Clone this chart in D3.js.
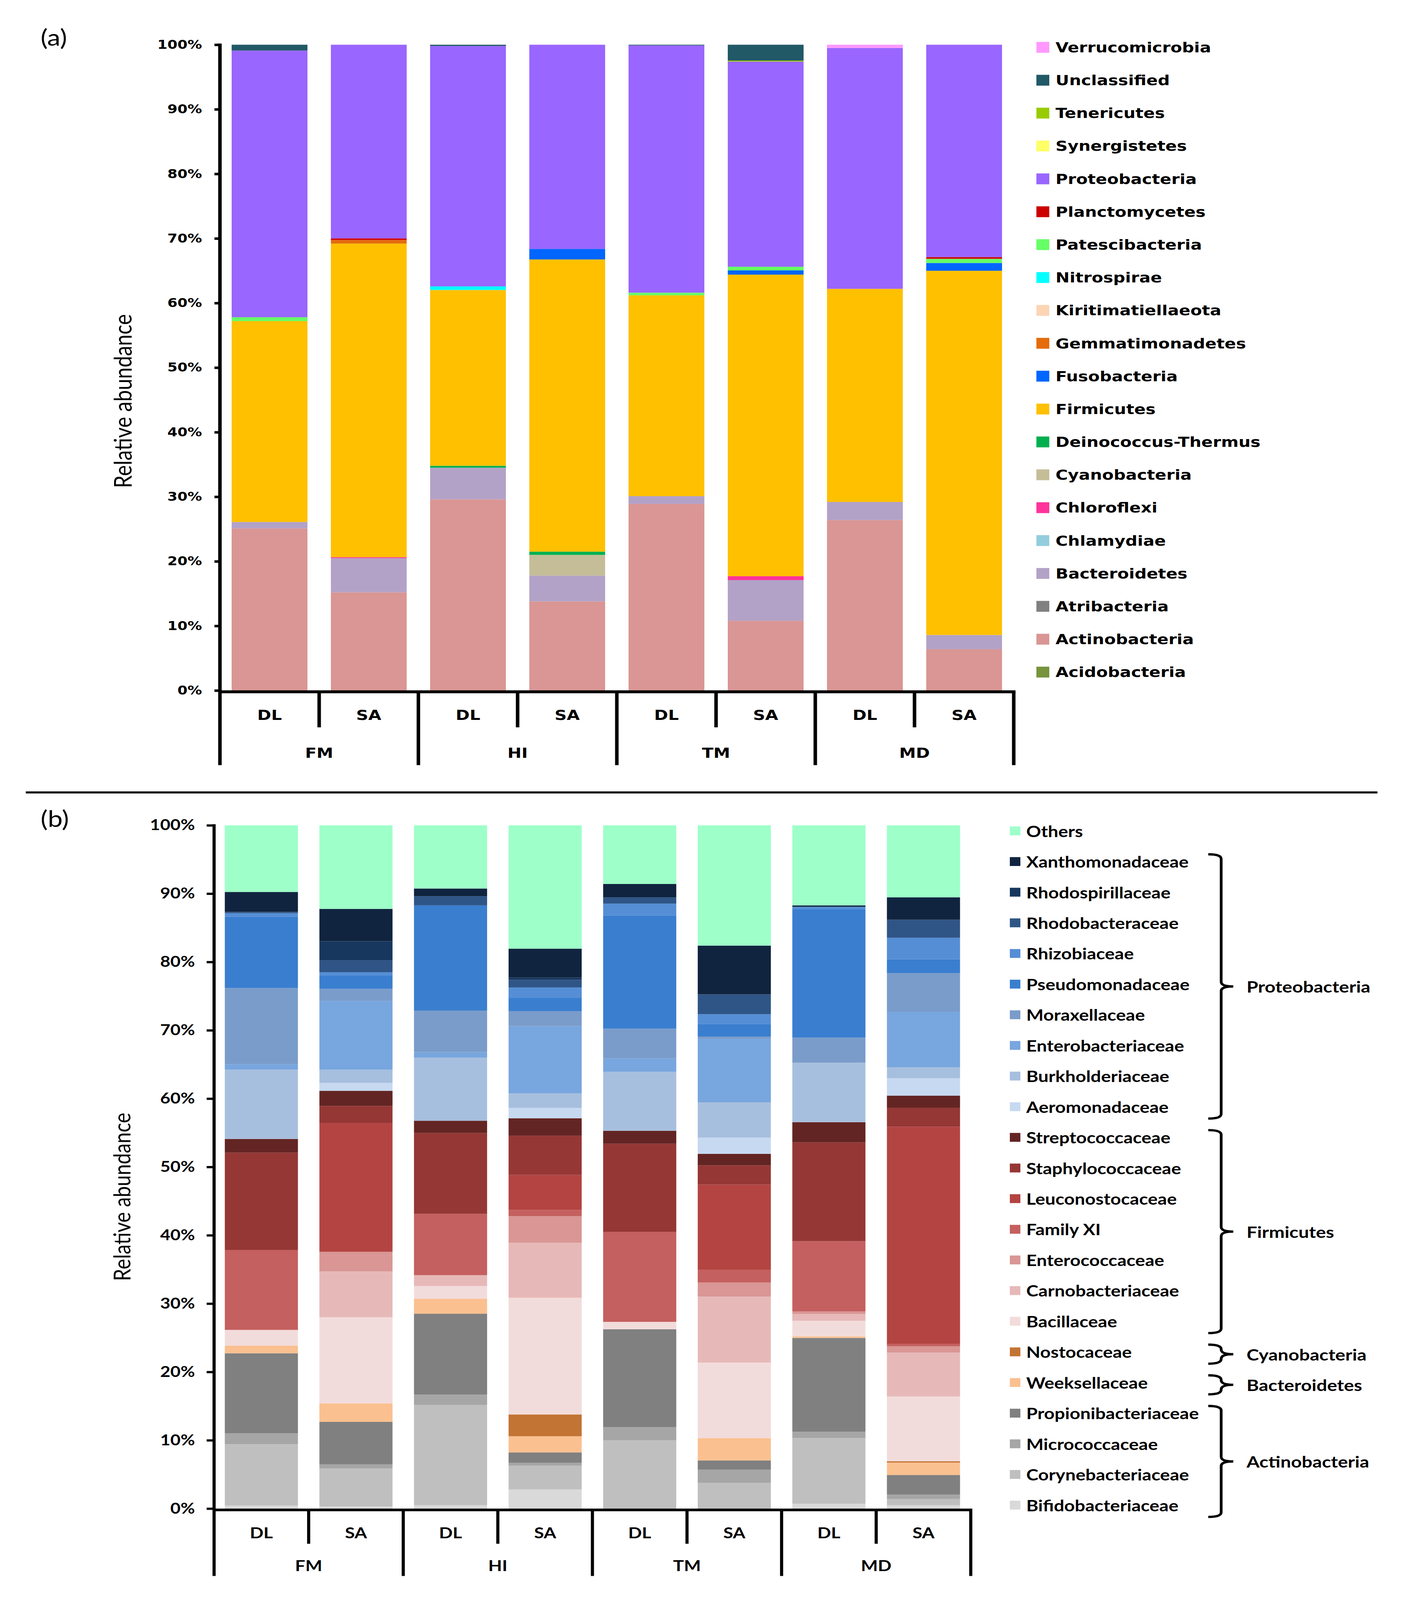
<!DOCTYPE html>
<html><head><meta charset="utf-8">
<script src="https://cdn.jsdelivr.net/npm/d3@7"></script>
<style>html,body{margin:0;padding:0;background:#fff;overflow:hidden;width:100%;height:100%;} svg{display:block;}</style>
</head><body>
<svg id="chart" xmlns="http://www.w3.org/2000/svg"></svg>
<script>
// ---------- shared categories ----------
const sites = ["FM", "HI", "TM", "MD"];
const treatments = ["DL", "SA"];
const sampleKeys = ["FM-DL", "FM-SA", "HI-DL", "HI-SA", "TM-DL", "TM-SA", "MD-DL", "MD-SA"];
const yTicks = [0, 10, 20, 30, 40, 50, 60, 70, 80, 90, 100];

// ---------- panel (a): phyla, stack order bottom -> top ----------
const phyla = ["Acidobacteria", "Actinobacteria", "Atribacteria", "Bacteroidetes", "Chlamydiae",
  "Chloroflexi", "Cyanobacteria", "Deinococcus-Thermus", "Firmicutes", "Fusobacteria",
  "Gemmatimonadetes", "Kiritimatiellaeota", "Nitrospirae", "Patescibacteria", "Planctomycetes",
  "Proteobacteria", "Synergistetes", "Tenericutes", "Unclassified", "Verrucomicrobia"];
const phylaFM_DL = [0, 25.1, 0, 1.0, 0, 0, 0, 0, 31.1, 0, 0, 0, 0, 0.6, 0, 41.3, 0, 0, 0.9, 0];
const phylaFM_SA = [0, 15.2, 0, 5.3, 0, 0.15, 0, 0, 48.55, 0, 0.56, 0, 0, 0, 0.25, 29.99, 0, 0, 0, 0];
const phylaHI_DL = [0, 29.6, 0, 4.9, 0, 0, 0, 0.3, 27.22, 0, 0, 0, 0.56, 0, 0, 37.22, 0, 0, 0.2, 0];
const phylaHI_SA = [0, 13.8, 0, 4.0, 0, 0, 3.2, 0.5, 45.25, 1.63, 0, 0, 0, 0, 0, 31.62, 0, 0, 0, 0];
const phylaTM_DL = [0, 28.9, 0, 1.2, 0, 0, 0, 0, 31.1, 0, 0, 0, 0, 0.4, 0, 38.3, 0, 0, 0.1, 0];
const phylaTM_SA = [0, 10.8, 0, 6.3, 0, 0.6, 0, 0, 46.7, 0.66, 0, 0, 0, 0.56, 0, 31.78, 0, 0.15, 2.45, 0];
const phylaMD_DL = [0, 26.4, 0, 2.8, 0, 0, 0, 0, 33.0, 0, 0, 0, 0, 0, 0, 37.3, 0, 0, 0, 0.5];
const phylaMD_SA = [0, 6.4, 0, 2.2, 0, 0, 0, 0, 56.4, 1.2, 0, 0, 0, 0.65, 0.26, 32.89, 0, 0, 0, 0];
const phylaColors = ["#77933C", "#D99694", "#808080", "#B3A2C7", "#93CDDD",
  "#FF3399", "#C4BD97", "#00B050", "#FFC000", "#0066FF",
  "#E46C0A", "#FCD5B5", "#00FFFF", "#66FF66", "#CC0000",
  "#9966FF", "#FFFF66", "#99CC00", "#215967", "#FF99FF"];

// ---------- panel (b): families, stack order bottom -> top ----------
const families = ["Bifidobacteriaceae", "Corynebacteriaceae", "Micrococcaceae", "Propionibacteriaceae",
  "Weeksellaceae", "Nostocaceae", "Bacillaceae", "Carnobacteriaceae", "Enterococcaceae", "Family XI",
  "Leuconostocaceae", "Staphylococcaceae", "Streptococcaceae", "Aeromonadaceae", "Burkholderiaceae",
  "Enterobacteriaceae", "Moraxellaceae", "Pseudomonadaceae", "Rhizobiaceae", "Rhodobacteraceae",
  "Rhodospirillaceae", "Xanthomonadaceae", "Others"];
const famFM_DL = [0.45, 8.96, 1.62, 11.70, 1.12, 0, 2.30, 0, 0, 11.70, 0, 14.25, 2.00, 0, 10.14, 0.78, 11.16, 10.45, 0.51, 0.20, 0, 2.91, 9.75];
const famFM_SA = [0.3, 5.56, 0.61, 6.22, 2.71, 0, 12.61, 6.70, 2.87, 0, 18.84, 2.50, 2.23, 1.15, 1.93, 10.08, 1.76, 1.96, 0.47, 1.76, 2.78, 4.73, 12.23];
const famHI_DL = [0.51, 14.65, 1.52, 11.84, 2.20, 0, 1.85, 1.59, 0, 8.97, 0, 11.84, 1.79, 0, 9.23, 0.81, 6.09, 15.39, 0, 1.35, 0, 1.12, 9.25];
const famHI_SA = [2.81, 3.45, 0.44, 1.52, 2.37, 3.18, 17.08, 8.05, 3.92, 0.88, 5.14, 5.75, 2.54, 1.52, 2.13, 9.84, 2.17, 1.93, 1.55, 1.12, 0.34, 4.22, 18.05];
const famTM_DL = [0, 9.98, 1.93, 14.34, 0, 0, 1.08, 0, 0, 13.16, 0, 12.92, 1.89, 0, 8.63, 1.96, 4.36, 16.57, 1.73, 0.91, 0, 1.96, 8.58];
const famTM_SA = [0, 3.76, 1.93, 1.35, 3.28, 0, 11.06, 9.64, 2.06, 1.86, 12.48, 2.81, 1.69, 2.37, 5.17, 9.31, 0.30, 1.86, 1.42, 2.91, 0, 7.13, 17.61];
const famMD_DL = [0.71, 9.61, 0.92, 13.73, 0.23, 0, 2.30, 0.98, 0.38, 10.28, 0, 14.47, 2.94, 0, 8.70, 0, 3.68, 18.77, 0.37, 0, 0, 0.21, 11.72];
const famMD_SA = [0.5, 0.89, 0.65, 2.87, 1.83, 0.20, 9.47, 6.42, 0.92, 0.37, 31.76, 2.77, 1.79, 2.54, 1.59, 8.15, 5.65, 2.03, 3.14, 2.64, 0, 3.28, 10.54];
const famColors = ["#D9D9D9", "#BFBFBF", "#A6A6A6", "#808080",
  "#FAC090", "#C27434", "#F2DCDB", "#E6B9B8", "#D99694", "#C4605F",
  "#B34442", "#953735", "#632523", "#C6D9F1", "#A7BFDE",
  "#78A6DE", "#7A9CCA", "#3A7ECF", "#558ED5", "#2F5586",
  "#17375E", "#10243F", "#9EFFC9"];

// phylum groups for the family legend (legend row index ranges, legend order top->bottom)
const famGroupLabels = ["Proteobacteria", "Firmicutes", "Cyanobacteria", "Bacteroidetes", "Actinobacteria"];
const famGroupFirstRow = [1, 10, 17, 18, 19];
const famGroupLastRow = [9, 16, 17, 18, 22];

// ---------- drawing ----------
const W = 3594, H = 4866;
const svg = d3.select("#chart")
  .attr("viewBox", `0 0 ${W} ${H}`)
  .attr("preserveAspectRatio", "none")
  .attr("width", window.innerWidth || W)
  .attr("height", window.innerHeight || H);
svg.append("rect").attr("width", W).attr("height", H).attr("fill", "#fff");

function drawPanel(o) {
  const g = svg.append("g");
  const x = d3.scaleBand().domain(sampleKeys).range([o.x0, o.x1])
    .paddingInner(o.pad).paddingOuter(o.pad / 2);
  const y = d3.scaleLinear().domain([0, 100]).range([o.yBottom, o.yTop]);
  const table = sampleKeys.map((k, i) => {
    const row = { key: k };
    o.names.forEach((n, j) => { row[n] = o.values[i][j]; });
    return row;
  });
  const series = d3.stack().keys(o.names)(table);

  g.append("g").selectAll("g").data(series).join("g")
    .attr("fill", (d, i) => o.colors[i])
    .selectAll("rect").data(d => d.filter(s => s[1] - s[0] > 0)).join("rect")
    .attr("x", d => x(d.data.key))
    .attr("width", x.bandwidth())
    .attr("y", d => y(d[1]))
    .attr("height", d => y(d[0]) - y(d[1]));

  // y axis ticks + labels
  const axis = d3.axisLeft(y).tickValues(yTicks).tickFormat(d => d + "%")
    .tickSize(o.tickLen).tickPadding(o.tickPad);
  const axG = g.append("g").attr("transform", `translate(${o.x0},0)`).call(axis);
  axG.select(".domain").remove();
  axG.selectAll(".tick line").attr("stroke", "#000").attr("stroke-width", o.sw * 0.85);
  axG.selectAll(".tick text").attr("fill", "#000").attr("font-family", o.font)
    .attr("font-size", o.tickFont).attr("font-weight", "bold");

  const step = x.step();
  const line = (x1, y1, x2, y2) => g.append("line")
    .attr("x1", x1).attr("y1", y1).attr("x2", x2).attr("y2", y2)
    .attr("stroke", "#000").attr("stroke-width", o.sw);

  // vertical y axis line down to bottom of group row
  line(o.x0, o.yTop - o.sw * 0.4, o.x0, o.yGroupEnd);
  // x axis baseline
  line(o.x0, o.yAxis, o.x1 + o.sw / 2, o.yAxis);
  // separators
  for (let i = 1; i <= sampleKeys.length; i++) {
    const xb = o.x0 + i * step;
    if (i % 2 === 0) line(xb, o.yAxis, xb, o.yGroupEnd);
    else line(xb, o.yAxis, xb, o.yTickEnd);
  }
  // sample labels
  g.append("g").selectAll("text").data(sampleKeys).join("text")
    .attr("x", d => x(d) + x.bandwidth() / 2).attr("y", o.ySample)
    .attr("text-anchor", "middle").attr("dominant-baseline", "central")
    .attr("font-family", o.font).attr("font-weight", "bold").attr("font-size", o.labelFont)
    .text((d, i) => treatments[i % 2]);
  // site labels
  g.append("g").selectAll("text").data(sites).join("text")
    .attr("x", (d, i) => o.x0 + (2 * i + 1) * step).attr("y", o.ySite)
    .attr("text-anchor", "middle").attr("dominant-baseline", "central")
    .attr("font-family", o.font).attr("font-weight", "bold").attr("font-size", o.labelFont)
    .text(d => d);
  // y title
  g.append("text").attr("transform", `translate(${o.titleX},${o.titleY}) rotate(-90)`)
    .attr("text-anchor", "middle").attr("dominant-baseline", "central")
    .attr("font-family", "Lato").attr("font-size", o.titleFont).attr("fill", "#000")
    .text("Relative abundance");
  // panel letter
  g.append("text").attr("x", o.letterX).attr("y", o.letterY)
    .attr("dominant-baseline", "central").attr("font-family", "Lato")
    .attr("font-size", 68).attr("fill", "#000").text(o.letter);

  // legend (reverse of stack order)
  const legNames = o.names.slice().reverse();
  const legColors = o.colors.slice().reverse();
  const lg = g.append("g").selectAll("g").data(legNames).join("g")
    .attr("transform", (d, i) => `translate(${o.legX},${o.legY0 + i * o.legStep})`);
  lg.append("rect").attr("x", 0).attr("y", -o.legBox / 2).attr("width", o.legBox).attr("height", o.legBox)
    .attr("fill", (d, i) => legColors[i]);
  lg.append("text").attr("x", o.legTextDx).attr("y", 0).attr("dominant-baseline", "central")
    .attr("font-family", o.legFont).attr("font-weight", "bold").attr("font-size", o.legFontSize)
    .attr("fill", "#000").text(d => d);
  return g;
}

drawPanel({
  names: phyla, colors: phylaColors,
  values: [phylaFM_DL, phylaFM_SA, phylaHI_DL, phylaHI_SA, phylaTM_DL, phylaTM_SA, phylaMD_DL, phylaMD_SA],
  x0: 563, x1: 2595, pad: 0.236, yTop: 136, yBottom: 2100,
  yAxis: 2104, yTickEnd: 2212, yGroupEnd: 2327, ySample: 2174, ySite: 2289,
  sw: 9, tickLen: 14, tickPad: 32, font: "DejaVu Sans", tickFont: 37, labelFont: 43,
  titleX: 313, titleY: 1220, titleFont: 62, letter: "(a)", letterX: 104, letterY: 112,
  legX: 2653, legY0: 144, legStep: 100, legBox: 33, legTextDx: 49,
  legFont: "DejaVu Sans", legFontSize: 43
});

const gb = drawPanel({
  names: families, colors: famColors,
  values: [famFM_DL, famFM_SA, famHI_DL, famHI_SA, famTM_DL, famTM_SA, famMD_DL, famMD_SA],
  x0: 548, x1: 2485, pad: 0.227, yTop: 2510, yBottom: 4588,
  yAxis: 4592, yTickEnd: 4695, yGroupEnd: 4793, ySample: 4661, ySite: 4760,
  sw: 8, tickLen: 19, tickPad: 30, font: "Lato", tickFont: 45, labelFont: 46,
  titleX: 311, titleY: 3640, titleFont: 60, letter: "(b)", letterX: 104, letterY: 2489,
  legX: 2585, legY0: 2527, legStep: 93.2, legBox: 27, legTextDx: 42,
  legFont: "Lato", legFontSize: 47
});

// separator between panels
svg.append("line").attr("x1", 66).attr("x2", 3526).attr("y1", 2410).attr("y2", 2410)
  .attr("stroke", "#000").attr("stroke-width", 6);

// braces grouping families by phylum
const rowY = i => 2527 + i * 93.2;
const bx0 = 3093, bx1 = 3126, bx2 = 3157;
famGroupLabels.forEach((lab, k) => {
  const top = rowY(famGroupFirstRow[k]) - 22;
  const bot = rowY(famGroupLastRow[k]) + 36;
  const mid = (top + bot) / 2;
  const r = Math.min(14, (bot - top) / 4);
  const p = d3.path();
  p.moveTo(bx0, top);
  p.quadraticCurveTo(bx1, top, bx1, top + r);
  p.lineTo(bx1, mid - r);
  p.quadraticCurveTo(bx1, mid, bx2, mid);
  p.moveTo(bx2, mid);
  p.quadraticCurveTo(bx1, mid, bx1, mid + r);
  p.lineTo(bx1, bot - r);
  p.quadraticCurveTo(bx1, bot, bx0, bot);
  gb.append("path").attr("d", p.toString()).attr("fill", "none")
    .attr("stroke", "#000").attr("stroke-width", 7);
  gb.append("text").attr("x", 3191).attr("y", mid).attr("dominant-baseline", "central")
    .attr("font-family", "Lato").attr("font-weight", "bold").attr("font-size", 48)
    .attr("fill", "#000").text(lab);
});
</script>
</body></html>
